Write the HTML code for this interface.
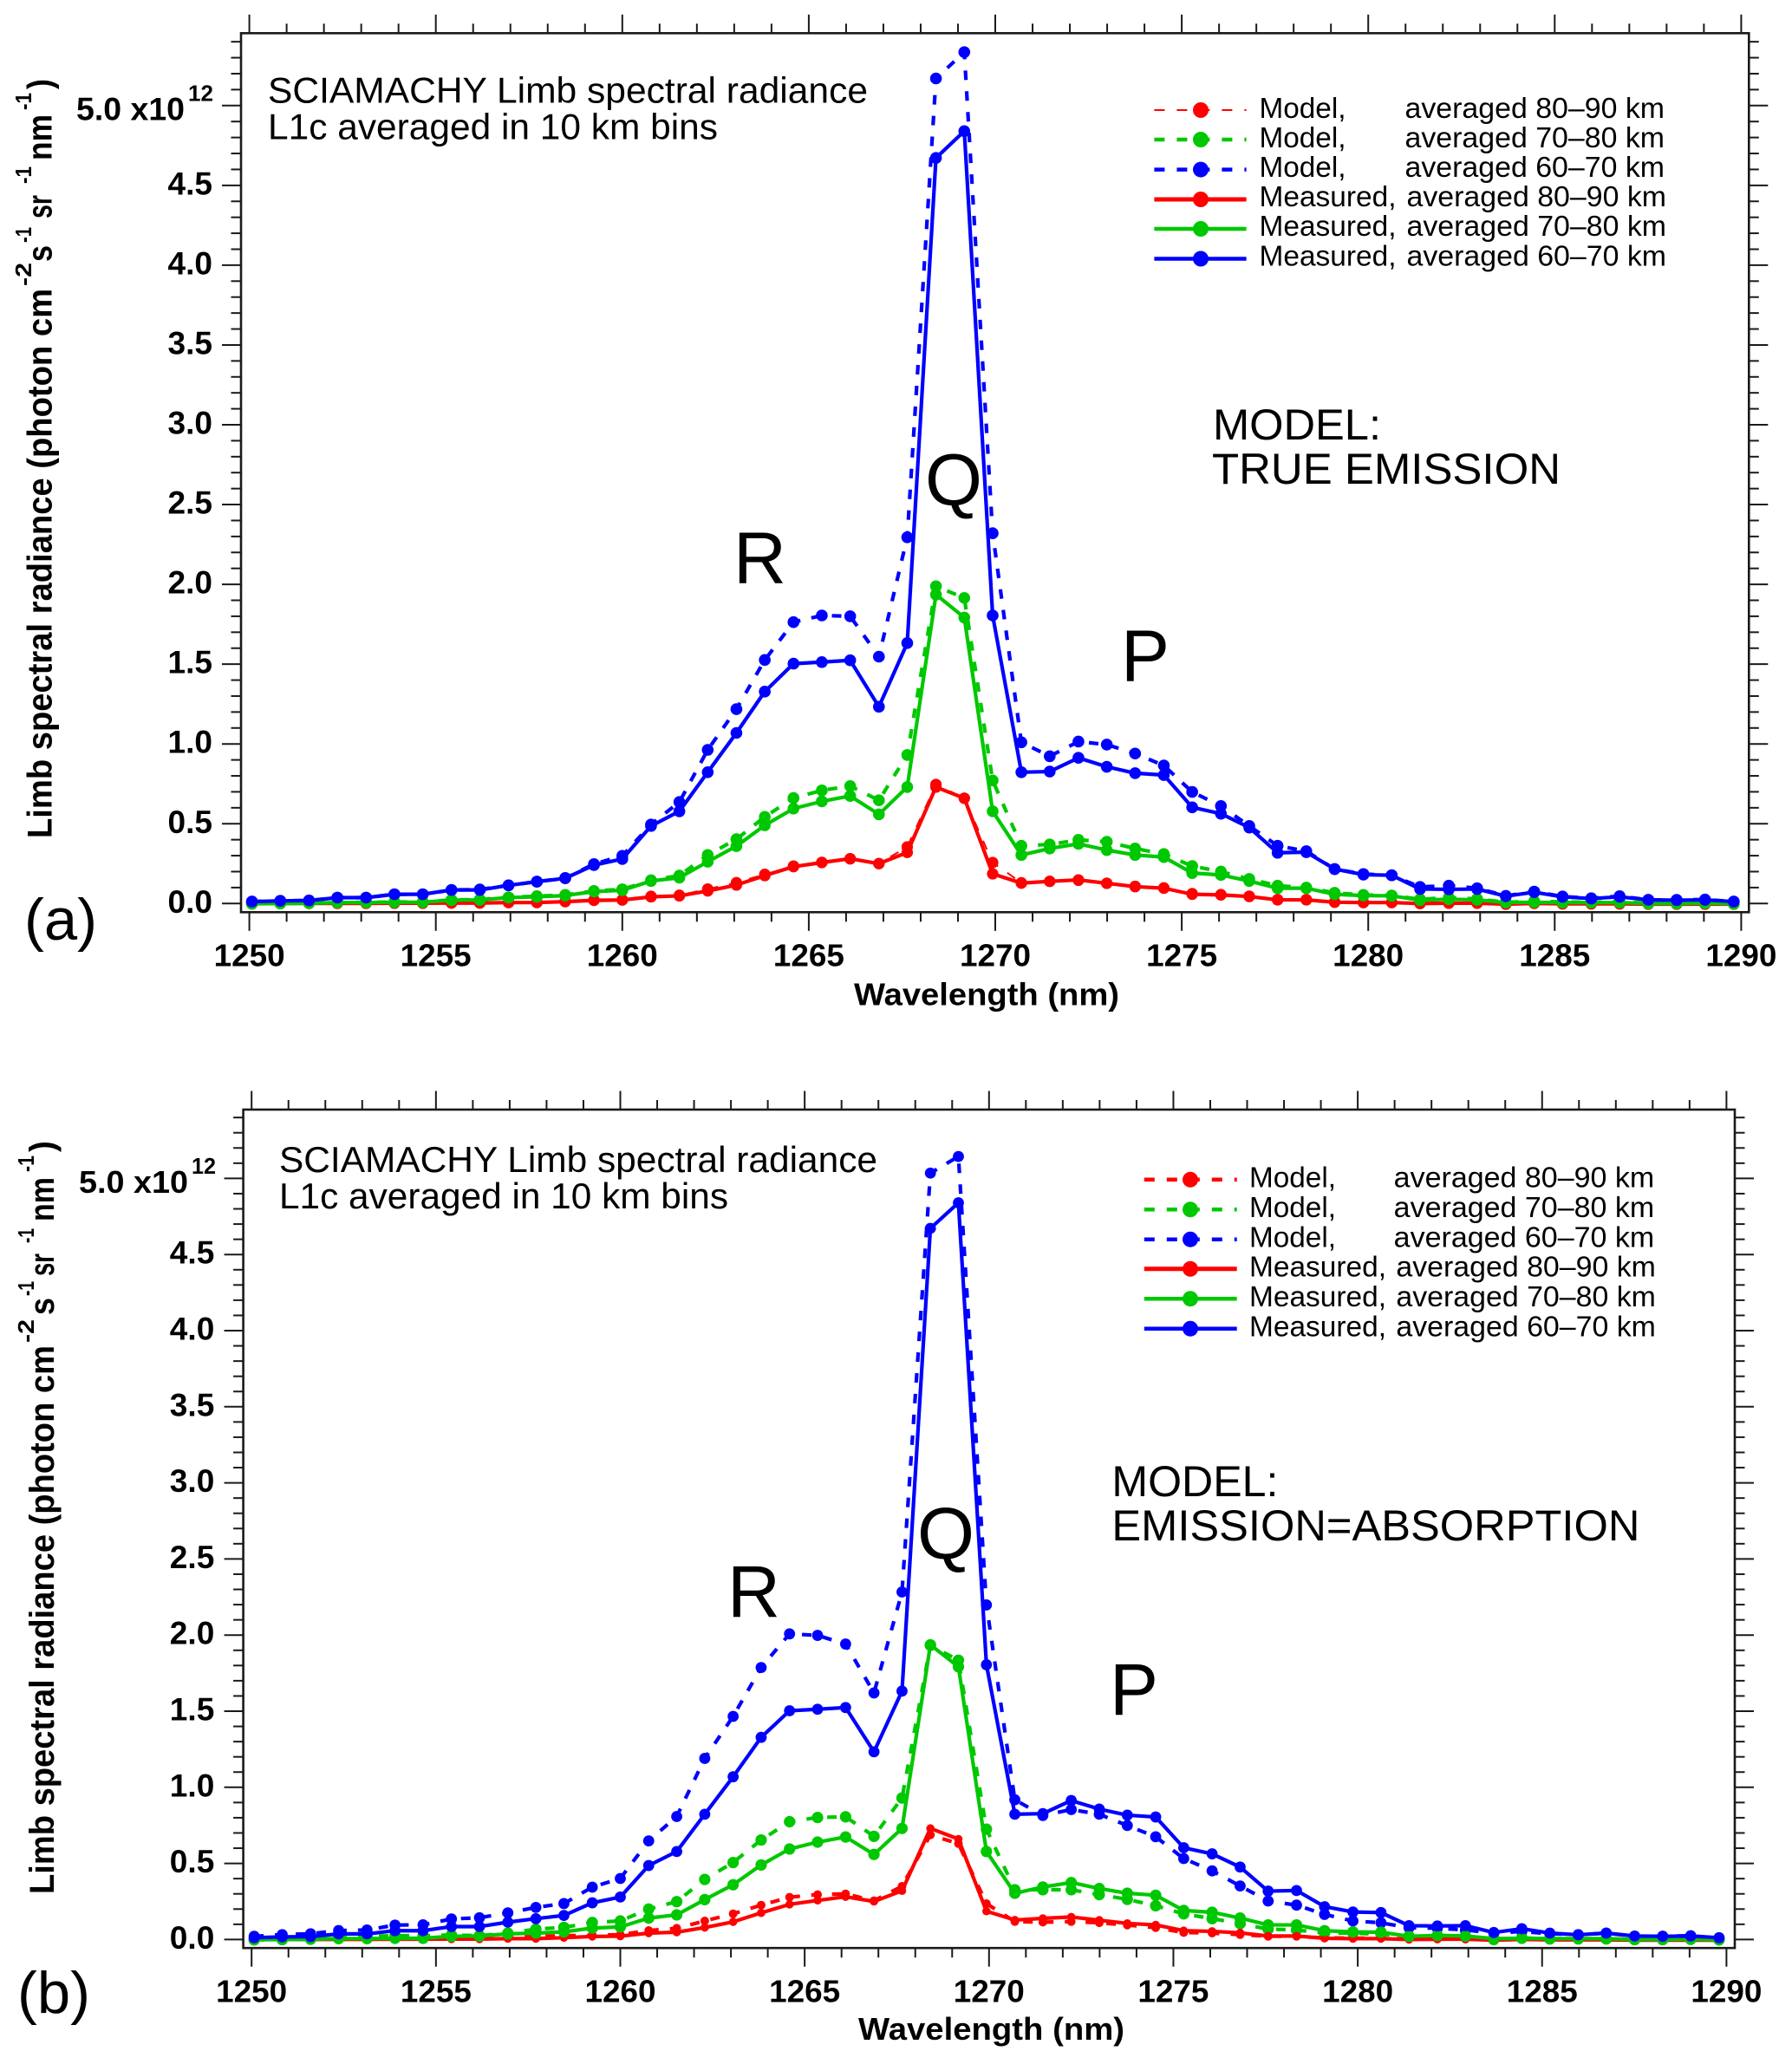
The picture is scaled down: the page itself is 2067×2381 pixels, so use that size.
<!DOCTYPE html>
<html lang="en">
<head>
<meta charset="utf-8">
<title>SCIAMACHY Limb spectral radiance</title>
<style>
html,body{margin:0;padding:0;background:#fff}
svg{display:block}
text{font-family:"Liberation Sans",sans-serif;fill:#000}
.b{font-weight:bold}
</style>
</head>
<body>
<svg id="chart" xmlns="http://www.w3.org/2000/svg" width="2067" height="2381" viewBox="0 0 2067 2381">
<rect x="0" y="0" width="2067" height="2381" fill="#fff"/>
<g id="panel-a"></g>
<g id="panel-b"></g>

<g>
  <text x="309" y="118.5" font-size="42" textLength="692" lengthAdjust="spacingAndGlyphs">SCIAMACHY Limb spectral radiance</text>
  <text x="309" y="160.5" font-size="42" textLength="519" lengthAdjust="spacingAndGlyphs">L1c averaged in 10 km bins</text>
  <text x="1399" y="507" font-size="50" textLength="194" lengthAdjust="spacingAndGlyphs">MODEL:</text>
  <text x="1398" y="558" font-size="50" textLength="402" lengthAdjust="spacingAndGlyphs">TRUE EMISSION</text>
  <text x="846" y="672.5" font-size="84" textLength="61" lengthAdjust="spacingAndGlyphs">R</text>
  <text x="1067" y="582.5" font-size="84" textLength="66" lengthAdjust="spacingAndGlyphs">Q</text>
  <text x="1293" y="785.5" font-size="84" textLength="56" lengthAdjust="spacingAndGlyphs">P</text>
  <text x="28" y="1084" font-size="68" textLength="84" lengthAdjust="spacingAndGlyphs">(a)</text>
  <text class="b" x="985" y="1159.5" font-size="36" textLength="306" lengthAdjust="spacingAndGlyphs">Wavelength (nm)</text>
  <text class="b" x="88" y="138.3" font-size="37" textLength="125" lengthAdjust="spacingAndGlyphs">5.0 x10</text>
  <text class="b" x="217" y="116.7" font-size="26" textLength="29" lengthAdjust="spacingAndGlyphs">12</text>
  <g>
    <text class="b" transform="translate(59.5,967) rotate(-90)" font-size="40" textLength="634" lengthAdjust="spacingAndGlyphs">Limb spectral radiance (photon cm</text>
    <text class="b" transform="translate(36,330) rotate(-90)" font-size="26" textLength="27" lengthAdjust="spacingAndGlyphs">-2</text>
    <text class="b" transform="translate(59.5,302) rotate(-90)" font-size="40" textLength="19" lengthAdjust="spacingAndGlyphs">s</text>
    <text class="b" transform="translate(36,280) rotate(-90)" font-size="26" textLength="18" lengthAdjust="spacingAndGlyphs">-1</text>
    <text class="b" transform="translate(59.5,252) rotate(-90)" font-size="40" textLength="27" lengthAdjust="spacingAndGlyphs">sr</text>
    <text class="b" transform="translate(36,212) rotate(-90)" font-size="26" textLength="20" lengthAdjust="spacingAndGlyphs">-1</text>
    <text class="b" transform="translate(59.5,185) rotate(-90)" font-size="40" textLength="53" lengthAdjust="spacingAndGlyphs">nm</text>
    <text class="b" transform="translate(36,127) rotate(-90)" font-size="26" textLength="20" lengthAdjust="spacingAndGlyphs">-1</text>
    <text class="b" transform="translate(59.5,103) rotate(-90)" font-size="40" textLength="12" lengthAdjust="spacingAndGlyphs">)</text>
  </g>
  <g>
    <text x="1452.5" y="135.9" font-size="33" textLength="100" lengthAdjust="spacingAndGlyphs">Model,</text>
    <text x="1620.5" y="135.9" font-size="33" textLength="299.5" lengthAdjust="spacingAndGlyphs">averaged 80–90 km</text>
    <text x="1452.5" y="170" font-size="33" textLength="100" lengthAdjust="spacingAndGlyphs">Model,</text>
    <text x="1620.5" y="170" font-size="33" textLength="299.5" lengthAdjust="spacingAndGlyphs">averaged 70–80 km</text>
    <text x="1452.5" y="204" font-size="33" textLength="100" lengthAdjust="spacingAndGlyphs">Model,</text>
    <text x="1620.5" y="204" font-size="33" textLength="299.5" lengthAdjust="spacingAndGlyphs">averaged 60–70 km</text>
    <text x="1452.5" y="238" font-size="33" textLength="158" lengthAdjust="spacingAndGlyphs">Measured,</text>
    <text x="1622.5" y="238" font-size="33" textLength="299.5" lengthAdjust="spacingAndGlyphs">averaged 80–90 km</text>
    <text x="1452.5" y="272.2" font-size="33" textLength="158" lengthAdjust="spacingAndGlyphs">Measured,</text>
    <text x="1622.5" y="272.2" font-size="33" textLength="299.5" lengthAdjust="spacingAndGlyphs">averaged 70–80 km</text>
    <text x="1452.5" y="306.5" font-size="33" textLength="158" lengthAdjust="spacingAndGlyphs">Measured,</text>
    <text x="1622.5" y="306.5" font-size="33" textLength="299.5" lengthAdjust="spacingAndGlyphs">averaged 60–70 km</text>
    <g>
      <line x1="1331.4" x2="1437.6" y1="127" y2="127" stroke="#ff0000" stroke-width="2" stroke-dasharray="12 14"/>
      <circle cx="1385" cy="127" r="9" fill="#ff0000"/>
      <line x1="1331.4" x2="1437.6" y1="161" y2="161" stroke="#00c800" stroke-width="4.5" stroke-dasharray="12 14"/>
      <circle cx="1385" cy="161" r="9" fill="#00c800"/>
      <line x1="1331.4" x2="1437.6" y1="195.6" y2="195.6" stroke="#0000ff" stroke-width="4.5" stroke-dasharray="12 14"/>
      <circle cx="1385" cy="195.6" r="9" fill="#0000ff"/>
      <line x1="1331.4" x2="1437.6" y1="230" y2="230" stroke="#ff0000" stroke-width="5"/>
      <circle cx="1385" cy="230" r="9" fill="#ff0000"/>
      <line x1="1331.4" x2="1437.6" y1="264" y2="264" stroke="#00c800" stroke-width="4.5"/>
      <circle cx="1385" cy="264" r="9" fill="#00c800"/>
      <line x1="1331.4" x2="1437.6" y1="298.5" y2="298.5" stroke="#0000ff" stroke-width="4.5"/>
      <circle cx="1385" cy="298.5" r="9" fill="#0000ff"/>
    </g>
  </g>
</g>

<g>
  <text x="322" y="1352" font-size="42" textLength="690" lengthAdjust="spacingAndGlyphs">SCIAMACHY Limb spectral radiance</text>
  <text x="322" y="1394" font-size="42" textLength="518" lengthAdjust="spacingAndGlyphs">L1c averaged in 10 km bins</text>
  <text x="1282.4" y="1726" font-size="50" textLength="192" lengthAdjust="spacingAndGlyphs">MODEL:</text>
  <text x="1282.4" y="1777" font-size="50" textLength="609" lengthAdjust="spacingAndGlyphs">EMISSION=ABSORPTION</text>
  <text x="839" y="1865" font-size="84" textLength="61" lengthAdjust="spacingAndGlyphs">R</text>
  <text x="1058" y="1798" font-size="84" textLength="66" lengthAdjust="spacingAndGlyphs">Q</text>
  <text x="1280" y="1978" font-size="84" textLength="56" lengthAdjust="spacingAndGlyphs">P</text>
  <text x="20" y="2322" font-size="68" textLength="84" lengthAdjust="spacingAndGlyphs">(b)</text>
  <text class="b" x="990" y="2352.8" font-size="36" textLength="307" lengthAdjust="spacingAndGlyphs">Wavelength (nm)</text>
  <text class="b" x="91" y="1376" font-size="36" textLength="126" lengthAdjust="spacingAndGlyphs">5.0 x10</text>
  <text class="b" x="221" y="1354" font-size="26" textLength="28" lengthAdjust="spacingAndGlyphs">12</text>
  <g>
    <text class="b" transform="translate(62,2185) rotate(-90)" font-size="40" textLength="633" lengthAdjust="spacingAndGlyphs">Limb spectral radiance (photon cm</text>
    <text class="b" transform="translate(39,1549) rotate(-90)" font-size="26" textLength="27" lengthAdjust="spacingAndGlyphs">-2</text>
    <text class="b" transform="translate(62,1517) rotate(-90)" font-size="40" textLength="20" lengthAdjust="spacingAndGlyphs">s</text>
    <text class="b" transform="translate(39,1495) rotate(-90)" font-size="26" textLength="17" lengthAdjust="spacingAndGlyphs">-1</text>
    <text class="b" transform="translate(62,1472) rotate(-90)" font-size="40" textLength="26" lengthAdjust="spacingAndGlyphs">sr</text>
    <text class="b" transform="translate(39,1434) rotate(-90)" font-size="26" textLength="17" lengthAdjust="spacingAndGlyphs">-1</text>
    <text class="b" transform="translate(62,1409) rotate(-90)" font-size="40" textLength="51" lengthAdjust="spacingAndGlyphs">nm</text>
    <text class="b" transform="translate(39,1352) rotate(-90)" font-size="26" textLength="19" lengthAdjust="spacingAndGlyphs">-1</text>
    <text class="b" transform="translate(62,1329) rotate(-90)" font-size="40" textLength="13" lengthAdjust="spacingAndGlyphs">)</text>
  </g>
  <g>
    <text x="1441" y="1369.6" font-size="33" textLength="100" lengthAdjust="spacingAndGlyphs">Model,</text>
    <text x="1607.7" y="1369.6" font-size="33" textLength="300.5" lengthAdjust="spacingAndGlyphs">averaged 80–90 km</text>
    <text x="1441" y="1404" font-size="33" textLength="100" lengthAdjust="spacingAndGlyphs">Model,</text>
    <text x="1607.7" y="1404" font-size="33" textLength="300.5" lengthAdjust="spacingAndGlyphs">averaged 70–80 km</text>
    <text x="1441" y="1438.5" font-size="33" textLength="100" lengthAdjust="spacingAndGlyphs">Model,</text>
    <text x="1607.7" y="1438.5" font-size="33" textLength="300.5" lengthAdjust="spacingAndGlyphs">averaged 60–70 km</text>
    <text x="1441" y="1472.6" font-size="33" textLength="158" lengthAdjust="spacingAndGlyphs">Measured,</text>
    <text x="1610.4" y="1472.6" font-size="33" textLength="299.5" lengthAdjust="spacingAndGlyphs">averaged 80–90 km</text>
    <text x="1441" y="1507" font-size="33" textLength="158" lengthAdjust="spacingAndGlyphs">Measured,</text>
    <text x="1610.4" y="1507" font-size="33" textLength="299.5" lengthAdjust="spacingAndGlyphs">averaged 70–80 km</text>
    <text x="1441" y="1541.5" font-size="33" textLength="158" lengthAdjust="spacingAndGlyphs">Measured,</text>
    <text x="1610.4" y="1541.5" font-size="33" textLength="299.5" lengthAdjust="spacingAndGlyphs">averaged 60–70 km</text>
    <g>
      <line x1="1319.8" x2="1426.7" y1="1360.8" y2="1360.8" stroke="#ff0000" stroke-width="4.5" stroke-dasharray="12 14"/>
      <circle cx="1373" cy="1360.8" r="9" fill="#ff0000"/>
      <line x1="1319.8" x2="1426.7" y1="1395.3" y2="1395.3" stroke="#00c800" stroke-width="4.5" stroke-dasharray="12 14"/>
      <circle cx="1373" cy="1395.3" r="9" fill="#00c800"/>
      <line x1="1319.8" x2="1426.7" y1="1429.7" y2="1429.7" stroke="#0000ff" stroke-width="4.5" stroke-dasharray="12 14"/>
      <circle cx="1373" cy="1429.7" r="9" fill="#0000ff"/>
      <line x1="1319.8" x2="1426.7" y1="1463.8" y2="1463.8" stroke="#ff0000" stroke-width="5"/>
      <circle cx="1373" cy="1463.8" r="9" fill="#ff0000"/>
      <line x1="1319.8" x2="1426.7" y1="1498.2" y2="1498.2" stroke="#00c800" stroke-width="4.5"/>
      <circle cx="1373" cy="1498.2" r="9" fill="#00c800"/>
      <line x1="1319.8" x2="1426.7" y1="1532.7" y2="1532.7" stroke="#0000ff" stroke-width="4.5"/>
      <circle cx="1373" cy="1532.7" r="9" fill="#0000ff"/>
    </g>
  </g>
</g>
</svg>

<script>
/* ---------- data (radiance in units of 10^12) ---------- */
const wavelengths = [
 1250.07,1250.83,1251.60,1252.36,1253.13,1253.89,1254.65,1255.42,1256.18,1256.95,
 1257.71,1258.47,1259.24,1260.00,1260.77,1261.53,1262.29,1263.06,1263.82,1264.59,
 1265.35,1266.11,1266.88,1267.64,1268.41,1269.17,1269.93,1270.70,1271.46,1272.23,
 1272.99,1273.75,1274.52,1275.28,1276.05,1276.81,1277.57,1278.34,1279.10,1279.87,
 1280.63,1281.39,1282.16,1282.92,1283.69,1284.45,1285.21,1285.98,1286.74,1287.51,
 1288.27,1289.03,1289.80];

const measuredRed = [
 0,.001,.001,.001,.001,.002,.002,.003,.003,.006,
 .006,.012,.02,.022,.042,.048,.079,.116,.175,.231,
 .257,.281,.25,.32,.73,.66,.186,.128,.139,.148,
 .127,.106,.096,.058,.054,.044,.023,.023,.008,.006,
 .006,0,.002,.002,-.004,.001,-.002,-.002,-.002,-.004,
 -.004,-.004,-.004];
const measuredGreen = [
 -.002,0,.002,.006,.006,.008,.008,.021,.023,.037,
 .042,.05,.075,.083,.141,.162,.262,.36,.49,.595,
 .64,.674,.559,.73,1.936,1.792,.578,.304,.345,.374,
 .335,.304,.291,.191,.179,.141,.096,.096,.058,.05,
 .048,.021,.027,.023,.006,.008,.006,.006,.006,0,
 0,.002,-.002];
const measuredBlue = [
 .012,.017,.019,.037,.037,.058,.058,.085,.085,.114,
 .137,.158,.241,.279,.486,.578,.823,1.069,1.328,1.503,
 1.513,1.524,1.233,1.632,4.672,4.84,1.805,.823,.827,.913,
 .857,.817,.805,.603,.563,.476,.318,.322,.216,.181,
 .177,.091,.089,.091,.046,.071,.042,.031,.042,.023,
 .021,.023,.012];

const modelRedA = [
 .001,.001,.001,.002,.002,.003,.003,.004,.004,.007,
 .008,.013,.022,.024,.045,.052,.091,.131,.183,.235,
 .258,.28,.25,.355,.746,.66,.257,.13,.139,.146,
 .127,.108,.098,.062,.056,.046,.025,.025,.01,.007,
 .007,.001,.003,.003,-.003,.002,-.001,-.001,-.001,-.003,
 -.003,-.003,-.003];
const modelGreenA = [
 -.001,.001,.003,.007,.007,.01,.01,.023,.025,.039,
 .046,.054,.079,.089,.146,.175,.304,.403,.543,.661,
 .709,.736,.647,.931,1.988,1.915,.771,.362,.37,.399,
 .387,.345,.31,.235,.2,.154,.112,.1,.067,.054,
 .05,.027,.037,.029,.008,.014,.01,.008,.012,.002,
 .002,.004,-.002];
const modelBlueA = [
 .012,.017,.019,.037,.037,.058,.058,.085,.088,.114,
 .137,.16,.247,.299,.495,.636,.963,1.218,1.526,1.763,
 1.805,1.8,1.547,2.295,5.17,5.335,2.32,1.01,.923,1.015,
 .996,.94,.865,.699,.611,.486,.362,.328,.216,.185,
 .177,.104,.112,.096,.048,.075,.044,.033,.046,.023,
 .023,.025,.012];

const modelRedB = [
 .001,.001,.002,.002,.002,.004,.006,.01,.012,.017,
 .02,.025,.028,.032,.059,.074,.122,.169,.226,.278,
 .295,.3,.255,.35,.687,.63,.236,.118,.114,.118,
 .11,.095,.078,.046,.042,.032,.021,.021,.011,.009,
 .009,.004,.004,.004,0,.003,0,0,0,-.002,
 -.002,-.002,-.002];
const modelGreenB = [
 -.002,0,.004,.017,.021,.025,.025,.03,.025,.042,
 .068,.08,.112,.122,.2,.249,.395,.506,.654,.774,
 .802,.806,.678,.93,1.932,1.835,.725,.327,.327,.327,
 .295,.264,.222,.169,.137,.105,.068,.063,.042,.042,
 .034,.021,.017,.017,0,.011,.004,.004,.004,0,
 0,.002,-.002];
const modelBlueB = [
 .021,.032,.038,.059,.063,.095,.097,.135,.143,.175,
 .211,.236,.344,.401,.648,.808,1.19,1.466,1.787,2.008,
 1.998,1.941,1.62,2.283,5.035,5.144,2.198,.918,.815,.854,
 .823,.749,.675,.532,.451,.352,.253,.226,.165,.122,
 .11,.078,.074,.063,.042,.053,.038,.032,.042,.021,
 .021,.025,.008];

const xTickLabels = ["1250","1255","1260","1265","1270","1275","1280","1285","1290"];
const yTickLabels = ["0.0","0.5","1.0","1.5","2.0","2.5","3.0","3.5","4.0","4.5"];
const seriesNames = ["model-80-90","model-70-80","model-60-70","measured-80-90","measured-70-80","measured-60-70"];

/* ---------- drawing ---------- */
const NS = "http://www.w3.org/2000/svg";
const RED = "#ff0000", GREEN = "#00c800", BLUE = "#0000ff", INK = "#1a1a1a";

function make(tag, parent) {
  const el = document.createElementNS(NS, tag);
  parent.appendChild(el);
  return el;
}

function drawLine(parent, x1, y1, x2, y2, w) {
  const l = make("line", parent);
  l.setAttribute("x1", x1);
  l.setAttribute("y1", y1);
  l.setAttribute("x2", x2);
  l.setAttribute("y2", y2);
  l.setAttribute("stroke", INK);
  l.setAttribute("stroke-width", w);
  return l;
}

function drawPanel(id, geo, series) {
  const root = document.getElementById(id);
  const xScale = v => geo.x0 + (v - 1250) * geo.xPerNm;
  const yScale = v => geo.y0 - v * geo.yPerUnit;

  /* series first, frame on top */
  series.forEach((s, k) => {
    const g = make("g", root);
    
    
    const pts = wavelengths.map((w, i) => xScale(w).toFixed(2) + "," + yScale(s.values[i]).toFixed(2)).join(" ");
    const line = make("polyline", g);
    
    
    line.setAttribute("points", pts);
    line.setAttribute("fill", "none");
    line.setAttribute("stroke", s.color);
    line.setAttribute("stroke-width", s.width);
    line.setAttribute("stroke-linejoin", "round");
    if (s.dash) line.setAttribute("stroke-dasharray", s.dash);
    wavelengths.forEach((w, i) => {
      const c = make("circle", g);
      
      
      c.setAttribute("cx", xScale(w).toFixed(2));
      c.setAttribute("cy", yScale(s.values[i]).toFixed(2));
      c.setAttribute("r", s.r);
      c.setAttribute("fill", s.color);
    });
  });

  /* frame */
  const frame = make("rect", root);
  
  
  frame.setAttribute("x", geo.left);
  frame.setAttribute("y", geo.top);
  frame.setAttribute("width", geo.right - geo.left);
  frame.setAttribute("height", geo.bottom - geo.top);
  frame.setAttribute("fill", "none");
  frame.setAttribute("stroke", INK);
  frame.setAttribute("stroke-width", 2.6);

  /* x ticks: 1 nm minor, 5 nm major, top and bottom */
  const xTicks = make("g", root);
  
  
  for (let n = 1250; n <= 1290; n++) {
    const major = (n - 1250) % 5 === 0;
    const len = major ? 21.5 : 11;
    const x = xScale(n);
    drawLine(xTicks, x, geo.bottom, x, geo.bottom + len, 2);
    drawLine(xTicks, x, geo.top, x, geo.top - len, 2);
  }

  /* y ticks: 0.1 minor, 0.5 major, left and right */
  const yTicks = make("g", root);
  
  
  for (let t = 0; t <= 54; t++) {
    const major = t % 5 === 0;
    const len = major ? 22 : 11.5;
    const y = yScale(t / 10);
    drawLine(yTicks, geo.left, y, geo.left - len, y, 2);
    drawLine(yTicks, geo.right, y, geo.right + len, y, 2);
  }

  /* tick labels */
  xTickLabels.forEach(lab => {
    const t = make("text", root);
    
    
    t.setAttribute("class", "b");
    t.setAttribute("x", (xScale(Number(lab)) - 41).toFixed(2));
    t.setAttribute("y", geo.xLabelBase);
    t.setAttribute("font-size", 36);
    t.setAttribute("textLength", 82);
    t.setAttribute("lengthAdjust", "spacingAndGlyphs");
    t.textContent = lab;
  });
  yTickLabels.forEach(lab => {
    const t = make("text", root);
    
    
    t.setAttribute("class", "b");
    t.setAttribute("x", geo.yLabelX);
    t.setAttribute("y", (yScale(Number(lab)) + 10.5).toFixed(2));
    t.setAttribute("font-size", 37);
    t.setAttribute("textLength", 51.5);
    t.setAttribute("lengthAdjust", "spacingAndGlyphs");
    t.textContent = lab;
  });
}

drawPanel("panel-a",
  {left:278, right:2017.3, top:38.3, bottom:1052.3, x0:287.6, xPerNm:43.02, y0:1042.3, yPerUnit:184.1, xLabelBase:1114.7, yLabelX:193.5},
  [
    {values:modelRedA,     color:RED,   width:2,   dash:"11 13", r:6.6},
    {values:modelGreenA,   color:GREEN, width:4.2, dash:"11 13", r:6.8},
    {values:modelBlueA,    color:BLUE,  width:4.2, dash:"11 13", r:6.8},
    {values:measuredRed,   color:RED,   width:4.2, r:6.6},
    {values:measuredGreen, color:GREEN, width:4.2, r:6.8},
    {values:measuredBlue,  color:BLUE,  width:4.2, r:6.8}
  ]);

drawPanel("panel-b",
  {left:280.6, right:2001, top:1280, bottom:2247.2, x0:290.2, xPerNm:42.53, y0:2237.4, yPerUnit:175.6, xLabelBase:2309.5, yLabelX:195.8},
  [
    {values:modelRedB,     color:RED,   width:4.2, dash:"11 13", r:5},
    {values:modelGreenB,   color:GREEN, width:4.2, dash:"11 13", r:6.6},
    {values:modelBlueB,    color:BLUE,  width:4.2, dash:"11 13", r:6.4},
    {values:measuredRed,   color:RED,   width:4.2, r:4.8},
    {values:measuredGreen, color:GREEN, width:4.2, r:6.6},
    {values:measuredBlue,  color:BLUE,  width:4.2, r:6.4}
  ]);
</script>
</body>
</html>
